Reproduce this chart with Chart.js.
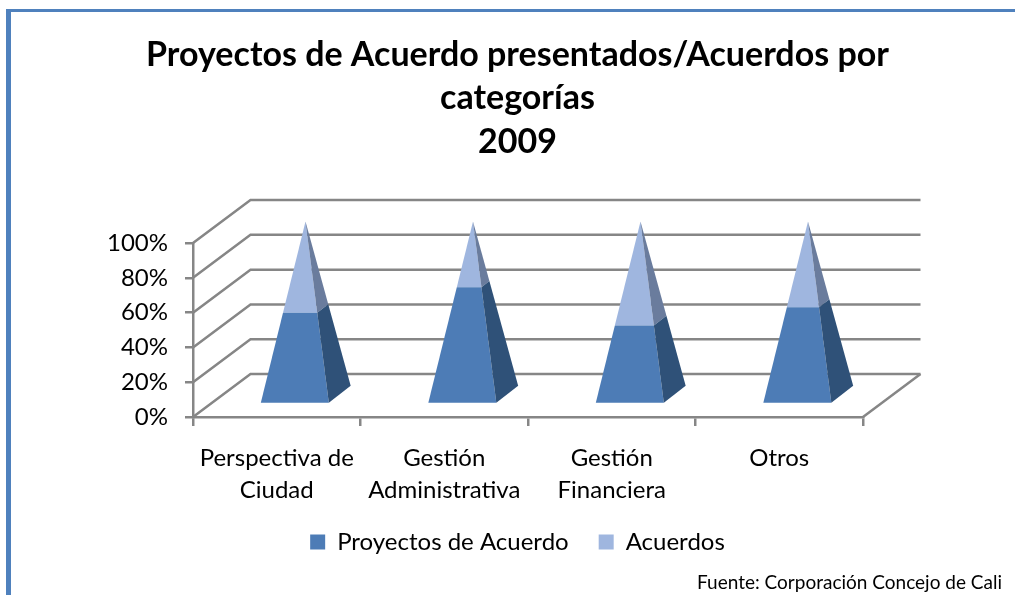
<!DOCTYPE html>
<html>
<head>
<meta charset="utf-8">
<script src="https://cdn.jsdelivr.net/npm/chart.js@4"></script>
<style>
body { margin: 0; background: #fff; }
#frame { position: absolute; left: 6px; top: 9px; right: 0; bottom: 0; border-left: 5px solid #4f81bd; border-top: 3px solid #4f81bd; }
canvas { position: absolute; left: 0; top: 0; }
</style>
</head>
<body>
<div id="frame"></div>
<canvas id="myChart" width="1015" height="595"></canvas>
<script>
const categories = [['Perspectiva de', 'Ciudad'], ['Gestión', 'Administrativa'], ['Gestión', 'Financiera'], 'Otros'];
const proyectos = [50, 64, 43, 53];
const acuerdos = [50, 36, 57, 47];
const titleLines = ['Proyectos de Acuerdo presentados/Acuerdos por', 'categorías', '2009'];
const sourceNote = 'Fuente: Corporación Concejo de Cali';

// depth of the fake 3d box
const depthX = 57.5;
const depthY = 43;

// pyramid base corners around the centre of the base
const frontLeft = [-45, 8.5];
const frontRight = [23.5, 8.5];
const backRight = [45.5, -8.5];

class PyramidController extends Chart.BarController {
    draw() {
        const ctx = this.chart.ctx;
        const scale = this._cachedMeta.vScale;
        const dataset = this.getDataset();
        const height = scale.bottom - scale.top;

        function corner(x, yPixel, c) {
            const shrink = (scale.bottom - yPixel) / height;
            return [x + depthX / 2 + c[0] * (1 - shrink), yPixel - depthY / 2 + c[1] * (1 - shrink)];
        }
        function face(color, points) {
            ctx.fillStyle = color;
            ctx.beginPath();
            points.forEach((p, i) => i ? ctx.lineTo(p[0], p[1]) : ctx.moveTo(p[0], p[1]));
            ctx.closePath();
            ctx.fill();
        }

        this._cachedMeta.data.forEach(bar => {
            face(dataset.backgroundColor, [
                corner(bar.x, bar.base, frontLeft),
                corner(bar.x, bar.base, frontRight),
                corner(bar.x, bar.y, frontRight),
                corner(bar.x, bar.y, frontLeft)
            ]);
            face(dataset.sideColor, [
                corner(bar.x, bar.base, frontRight),
                corner(bar.x, bar.base, backRight),
                corner(bar.x, bar.y, backRight),
                corner(bar.x, bar.y, frontRight)
            ]);
        });
    }
}
PyramidController.id = 'pyramid';
PyramidController.defaults = Chart.BarController.defaults;
PyramidController.overrides = Chart.BarController.overrides;
Chart.register(PyramidController);

const wallColor = '#868686';

const wallLines = {
    id: 'wallLines',
    beforeDatasetsDraw(chart) {
        const ctx = chart.ctx;
        const x = chart.scales.x;
        const y = chart.scales.y;
        ctx.save();
        ctx.strokeStyle = wallColor;
        ctx.lineWidth = 2.5;
        y.ticks.forEach(tick => {
            const py = y.getPixelForValue(tick.value);
            ctx.beginPath();
            ctx.moveTo(x.left, py);
            ctx.lineTo(x.left + depthX, py - depthY);
            ctx.lineTo(x.right + depthX, py - depthY);
            ctx.stroke();
        });
        ctx.beginPath();
        ctx.moveTo(x.right, y.bottom);
        ctx.lineTo(x.right + depthX, y.bottom - depthY);
        ctx.stroke();
        ctx.restore();
    }
};

new Chart(document.getElementById('myChart').getContext('2d'), {
    type: 'pyramid',
    data: {
        labels: categories,
        datasets: [
            { label: 'Proyectos de Acuerdo', data: proyectos, backgroundColor: '#4d7cb6', sideColor: '#2f5178', clip: false },
            { label: 'Acuerdos', data: acuerdos, backgroundColor: '#9fb6df', sideColor: '#6a7c9d', clip: false }
        ]
    },
    plugins: [wallLines],
    options: {
        responsive: false,
        animation: false,
        layout: { padding: { left: 33, right: 13 } },
        plugins: {
            title: {
                display: true,
                text: titleLines,
                color: '#000',
                font: { family: 'Lato', size: 34, weight: 'bold', lineHeight: 1.28 },
                padding: { top: 33, bottom: 79.5 }
            },
            subtitle: {
                display: true,
                position: 'bottom',
                align: 'end',
                text: sourceNote,
                color: '#000',
                font: { family: 'Lato', size: 19 },
                padding: { top: 7.6, bottom: 0.6 }
            },
            legend: {
                position: 'bottom',
                labels: {
                    color: '#000',
                    font: { family: 'Lato', size: 24 },
                    boxWidth: 15,
                    boxHeight: 15,
                    padding: 30
                }
            },
            tooltip: { enabled: false }
        },
        scales: {
            x: {
                stacked: true,
                afterFit(scale) { scale.height = 83; },
                grid: { drawOnChartArea: false, color: wallColor, lineWidth: 2.5, tickLength: 9 },
                border: { color: wallColor, width: 2.5 },
                ticks: { color: '#000', font: { family: 'Lato', size: 24, lineHeight: 1.3 }, padding: 17, maxRotation: 0, autoSkip: false }
            },
            y: {
                stacked: true,
                min: 0,
                max: 100,
                afterFit(scale) { scale.width = 160; },
                grid: { drawOnChartArea: false, color: wallColor, lineWidth: 2.5, tickLength: 8 },
                border: { color: wallColor, width: 2.5 },
                ticks: { color: '#000', font: { family: 'Lato', size: 24 }, padding: 17, stepSize: 20, callback: v => v + '%' }
            },
            // empty axis, only keeps room for the depth of the box on the right
            gutter: {
                axis: 'y',
                position: 'right',
                afterFit(scale) { scale.width = 139; },
                grid: { display: false },
                border: { display: false },
                ticks: { display: false }
            }
        }
    }
});
</script>
</body>
</html>
